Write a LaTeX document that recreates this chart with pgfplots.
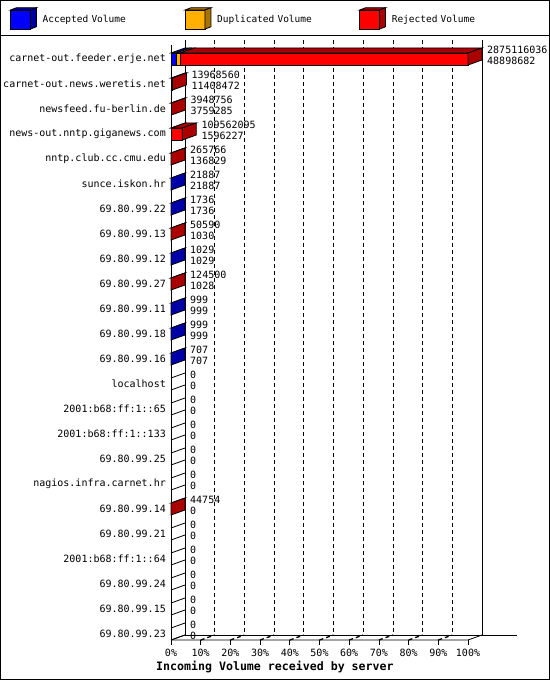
\documentclass[border=0pt]{standalone}
\usepackage{pgfplots}
\pgfplotsset{compat=1.18}
\usepackage{pgfplotstable}
\usepackage{fontspec}
\setmainfont{DejaVu Sans Mono}
\newfontfamily\mono{DejaVu Sans Mono}
\newcommand\tenmono{\mono\fontsize{10bp}{11bp}\selectfont}
\newcommand\legmono{\mono\fontsize{9.5bp}{11bp}\selectfont}
\newcommand\labmono{\mono\bfseries\fontsize{11.6bp}{13bp}\selectfont}

\definecolor{accF}{HTML}{0000FF}
\definecolor{accD}{HTML}{0000A8}
\definecolor{dupF}{HTML}{FFB000}
\definecolor{dupD}{HTML}{A87400}
\definecolor{rejF}{HTML}{FF0000}
\definecolor{rejD}{HTML}{AA0000}

\pgfdeclareplotmark{nothing}{}

% one segment of a 3D bar: front face and top face
\newcommand\seg[4]{%
  \filldraw[fill=#3,draw=black,line width=0.8bp] (#1 bp,-6bp) rectangle (#2 bp,6bp);
  \filldraw[fill=#4,draw=black,line width=0.8bp] (#1 bp,6bp) -- (#2 bp,6bp)
     -- ([shift={(14bp,5bp)}]#2 bp,6bp) -- ([shift={(14bp,5bp)}]#1 bp,6bp) -- cycle;
}
% whole 3D bar, drawn at the bar end (origin = end of bar, centre of row)
\newcommand\threedbar[3]{%
  \pgfkeys{/pgf/fpu=true,/pgf/fpu/output format=fixed}%
  \pgfmathparse{#1/2875116036*297}\let\LT\pgfmathresult
  \pgfmathparse{#2/2875116036*297}\let\LA\pgfmathresult
  \pgfmathparse{(#2+#3)/2875116036*297}\let\LD\pgfmathresult
  \pgfkeys{/pgf/fpu=false}%
  \pgfmathsetmacro\xO{-\LT}%
  \pgfmathsetmacro\xA{\LA-\LT}%
  \pgfmathsetmacro\xD{\LD-\LT}%
  \ifdim\LT pt>0pt
    \ifdim\LA pt>0pt \seg{\xO}{\xA}{accF}{accD}\fi
    \ifdim\LD pt>\LA pt \seg{\xA}{\xD}{dupF}{dupD}\fi
    \ifdim\LT pt>\LD pt \seg{\xD}{0}{rejF}{rejD}\def\sidecol{rejD}%
    \else\ifdim\LD pt>\LA pt \def\sidecol{dupD}\else\def\sidecol{accD}\fi\fi
    \filldraw[fill=\sidecol,draw=black,line width=0.8bp] (0bp,-6bp) -- (0bp,6bp)
       -- (14bp,11bp) -- (14bp,-1bp) -- cycle;
  \else
    \draw[black,line width=0.8bp] (0bp,6bp) -- (14bp,11bp) (0bp,-6bp) -- (14bp,-1bp);
  \fi
}
\newcommand\legendcube[2]{%
  \filldraw[fill=#1,draw=black,line width=0.8bp] (0bp,-9.5bp) rectangle (20bp,9.5bp);
  \filldraw[fill=#2,draw=black,line width=0.8bp] (0bp,9.5bp) -- (20bp,9.5bp) -- (26bp,11.8bp) -- (6bp,11.8bp) -- cycle;
  \filldraw[fill=#2,draw=black,line width=0.8bp] (20bp,-9.5bp) -- (20bp,9.5bp) -- (26bp,11.8bp) -- (26bp,-7.2bp) -- cycle;
  \path (32bp,0bp);
}

\pgfplotstableread{
row tot acc dup
1 2875116036 48898682 41000000
2 13968560 11408472 0
3 3948756 3759285 0
4 109562095 1596227 0
5 265766 136829 0
6 21887 21887 0
7 1736 1736 0
8 50590 1030 0
9 1029 1029 0
10 124500 1028 0
11 999 999 0
12 999 999 0
13 707 707 0
14 0 0 0
15 0 0 0
16 0 0 0
17 0 0 0
18 0 0 0
19 44754 0 0
20 0 0 0
21 0 0 0
22 0 0 0
23 0 0 0
24 0 0 0
}\volumes

\begin{document}
\begin{tikzpicture}[x=1bp,y=1bp]
\begin{axis}[
  at={(171bp,40bp)}, anchor=south west,
  scale only axis, width=297bp, height=595bp,
  xmin=0, xmax=100, ymin=0.44, ymax=24.24, y dir=reverse,
  clip=false,
  axis line style={draw=none},
  major tick length=0pt,
  xtick={0,10,20,30,40,50,60,70,80,90,100},
  xticklabels={0\%,10\%,20\%,30\%,40\%,50\%,60\%,70\%,80\%,90\%,100\%},
  ytick={1,2,3,4,5,6,7,8,9,10,11,12,13,14,15,16,17,18,19,20,21,22,23,24},
  yticklabels={carnet-out.feeder.erje.net,carnet-out.news.weretis.net,newsfeed.fu-berlin.de,news-out.nntp.giganews.com,nntp.club.cc.cmu.edu,sunce.iskon.hr,69.80.99.22,69.80.99.13,69.80.99.12,69.80.99.27,69.80.99.11,69.80.99.18,69.80.99.16,localhost,2001:b68:ff:1::65,2001:b68:ff:1::133,69.80.99.25,nagios.infra.carnet.hr,69.80.99.14,69.80.99.21,2001:b68:ff:1::64,69.80.99.24,69.80.99.15,69.80.99.23},
  xticklabel style={font=\tenmono, inner sep=0pt, anchor=north},
  yticklabel style={font=\tenmono, inner sep=0pt, anchor=east},
  xticklabel shift=9bp, yticklabel shift=5bp,
  xmajorgrids,
  major grid style={draw=black, line width=0.8bp, dash pattern=on 4bp off 3bp, xshift=14bp, yshift=5bp},
  xlabel={Incoming Volume received by server},
  every axis x label/.style={at={(axis description cs:-0.0505,-0.0454)}, anchor=west, inner sep=0pt, font=\labmono},
  legend columns=3, legend cell align=left,
  legend style={at={(axis description cs:-0.5421,1.0447)}, anchor=west, draw=none, fill=none,
    inner sep=0pt, outer sep=0pt, column sep=0pt,
    nodes={inner sep=0pt, text width=142bp, align=left, font=\legmono}},
]
\addlegendimage{legend image code/.code={\legendcube{accF}{accD}}}
\addlegendentry{Accepted Volume}
\addlegendimage{legend image code/.code={\legendcube{dupF}{dupD}}}
\addlegendentry{Duplicated Volume}
\addlegendimage{legend image code/.code={\legendcube{rejF}{rejD}}}
\addlegendentry{Rejected Volume}

% the 3D bars
\addplot[forget plot, scatter, only marks, mark=nothing, point meta=y,
  visualization depends on={\thisrow{tot}\as\vtot},
  visualization depends on={\thisrow{acc}\as\vacc},
  visualization depends on={\thisrow{dup}\as\vdup},
  scatter/@pre marker code/.code={\threedbar{\vtot}{\vacc}{\vdup}},
  scatter/@post marker code/.code={},
] table[x expr={\thisrow{tot}/2875116036*100}, y=row] {\volumes};

% value labels: total (upper line) and accepted (lower line)
\addplot[forget plot, only marks, mark=nothing, point meta=explicit symbolic,
  nodes near coords,
  every node near coord/.append style={anchor=west, xshift=19bp, yshift=9bp,
    inner sep=0pt, font=\tenmono, text=black},
] table[x expr={\thisrow{tot}/2875116036*100}, y=row, meta=tot] {\volumes};
\addplot[forget plot, only marks, mark=nothing, point meta=explicit symbolic,
  nodes near coords,
  every node near coord/.append style={anchor=west, xshift=19bp, yshift=-2bp,
    inner sep=0pt, font=\tenmono, text=black},
] table[x expr={\thisrow{tot}/2875116036*100}, y=row, meta=acc] {\volumes};

% 3D frame: walls and floor
\draw[line width=0.8bp] (axis cs:0,0.44) -- ([yshift=-5bp]axis cs:0,24.24);
\draw[line width=0.8bp] (axis cs:0,24.24) -- (axis cs:100,24.24) -- ++(14bp,5bp);
\draw[line width=0.8bp] (axis cs:0,24.24) -- ++(14bp,5bp);
\draw[line width=0.8bp] ([shift={(14bp,5bp)}]axis cs:0,0.44) -- ([shift={(14bp,5bp)}]axis cs:0,24.24) -- ++(332bp,0bp);
\draw[line width=0.8bp] ([shift={(14bp,5bp)}]axis cs:100,0.44) -- ([shift={(14bp,5bp)}]axis cs:100,24.24);
\pgfplotsinvokeforeach{10,20,30,40,50,60,70,80,90,100}{
  \draw[line width=0.8bp] (axis cs:#1,24.24) -- ++(0bp,-5bp);
}
\pgfplotsinvokeforeach{10,20,30,40,50,60,70,80,90}{
  \draw[line width=1.3bp, dash pattern=on 4bp off 3bp] (axis cs:#1,24.24) -- ++(14bp,5bp);
}
\end{axis}
\draw[line width=1bp] (0.5,0.5) rectangle (549.5,679.5);
\draw[line width=1bp] (0,644.5) -- (550,644.5);
\pgfresetboundingbox
\path[use as bounding box] (0,0) rectangle (550,680);
\end{tikzpicture}
\end{document}
